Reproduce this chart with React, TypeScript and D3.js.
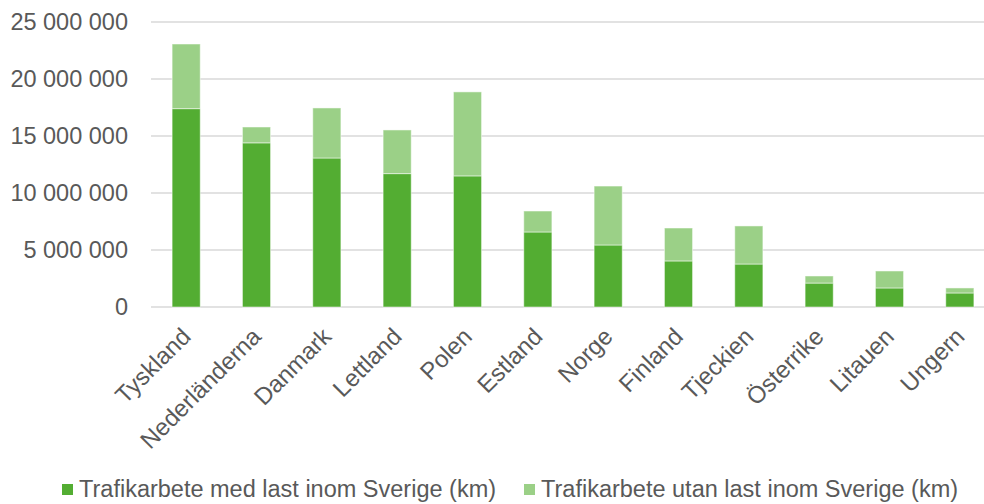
import React, { useEffect, useRef } from "react";
import * as d3 from "d3";

// Länder (kategorier)
const countries = [
  "Tyskland",
  "Nederländerna",
  "Danmark",
  "Lettland",
  "Polen",
  "Estland",
  "Norge",
  "Finland",
  "Tjeckien",
  "Österrike",
  "Litauen",
  "Ungern",
];

// Trafikarbete med last inom Sverige (km)
const withLoad = [
  17400000, 14400000, 13070000, 11700000, 11500000, 6580000, 5440000, 4040000,
  3770000, 2100000, 1670000, 1230000,
];

// Trafikarbete utan last inom Sverige (km)
const withoutLoad = [
  5670000, 1390000, 4390000, 3830000, 7370000, 1840000, 5170000, 2890000,
  3340000, 620000, 1490000, 440000,
];

const yTicks = [0, 5000000, 10000000, 15000000, 20000000, 25000000];

const seriesNames = [
  "Trafikarbete med last inom Sverige (km)",
  "Trafikarbete utan last inom Sverige (km)",
];
const seriesColors = ["#53ad32", "#9bd087"];

const W = 984;
const H = 504;

const App: React.FC = () => {
  const svgRef = useRef<SVGSVGElement>(null);

  useEffect(() => {
    if (!svgRef.current) return;
    const svg = d3.select(svgRef.current);
    svg.selectAll("*").remove();

    const font = "'Liberation Sans', Arial, sans-serif";
    const textColor = "#595959";

    const left = 151;
    const right = 995;
    const top = 22;
    const bottom = 307;

    const x = d3
      .scaleBand<string>()
      .domain(countries)
      .range([left, right])
      .paddingInner(0.6)
      .paddingOuter(0.3);

    const y = d3.scaleLinear().domain([0, 25000000]).range([bottom, top]);

    // gridlines
    svg
      .append("g")
      .selectAll("line")
      .data(yTicks)
      .enter()
      .append("line")
      .attr("x1", left)
      .attr("x2", W)
      .attr("y1", d => y(d))
      .attr("y2", d => y(d))
      .attr("stroke", "#d9d9d9")
      .attr("stroke-width", 1.5);

    // y tick labels
    const fmt = (v: number) => d3.format(",")(v).replace(/,/g, " ");
    svg
      .append("g")
      .selectAll("text")
      .data(yTicks)
      .enter()
      .append("text")
      .attr("x", 128)
      .attr("y", d => y(d))
      .attr("dy", "0.36em")
      .attr("text-anchor", "end")
      .style("font-family", font)
      .style("font-size", "23.5px")
      .attr("fill", textColor)
      .text(d => fmt(d));

    // stacked data
    const rows = countries.map((c, i) => ({
      country: c,
      a: withLoad[i],
      b: withoutLoad[i],
    }));
    const stacked = d3.stack<any>().keys(["a", "b"])(rows);

    svg
      .append("g")
      .selectAll("g")
      .data(stacked)
      .enter()
      .append("g")
      .attr("fill", (_, i) => seriesColors[i])
      .selectAll("rect")
      .data(d => d)
      .enter()
      .append("rect")
      .attr("x", d => x(d.data.country)!)
      .attr("width", x.bandwidth())
      .attr("y", d => y(d[1]))
      .attr("height", d => y(d[0]) - y(d[1]))
      .attr("stroke", "#ffffff")
      .attr("stroke-opacity", 0.5)
      .attr("stroke-width", 1);

    // category labels
    svg
      .append("g")
      .selectAll("text")
      .data(countries)
      .enter()
      .append("text")
      .attr(
        "transform",
        d => `translate(${x(d)! + x.bandwidth() / 2 + 6},${bottom + 31}) rotate(-45)`
      )
      .attr("text-anchor", "end")
      .style("font-family", font)
      .style("font-size", "24px")
      .attr("fill", textColor)
      .text(d => d);

    // legend
    const legendX = [62, 524];
    seriesNames.forEach((name, i) => {
      const g = svg.append("g");
      g.append("rect")
        .attr("x", legendX[i])
        .attr("y", 484)
        .attr("width", 11)
        .attr("height", 11)
        .attr("fill", seriesColors[i]);
      g.append("text")
        .attr("x", legendX[i] + 17)
        .attr("y", 497)
        .style("font-family", font)
        .style("font-size", "23.5px")
        .attr("fill", textColor)
        .text(name);
    });
  }, []);

  return (
    <svg
      ref={svgRef}
      width={W}
      height={H}
      style={{ position: "absolute", left: 0, top: 0, background: "#fff" }}
    />
  );
};

export default App;
